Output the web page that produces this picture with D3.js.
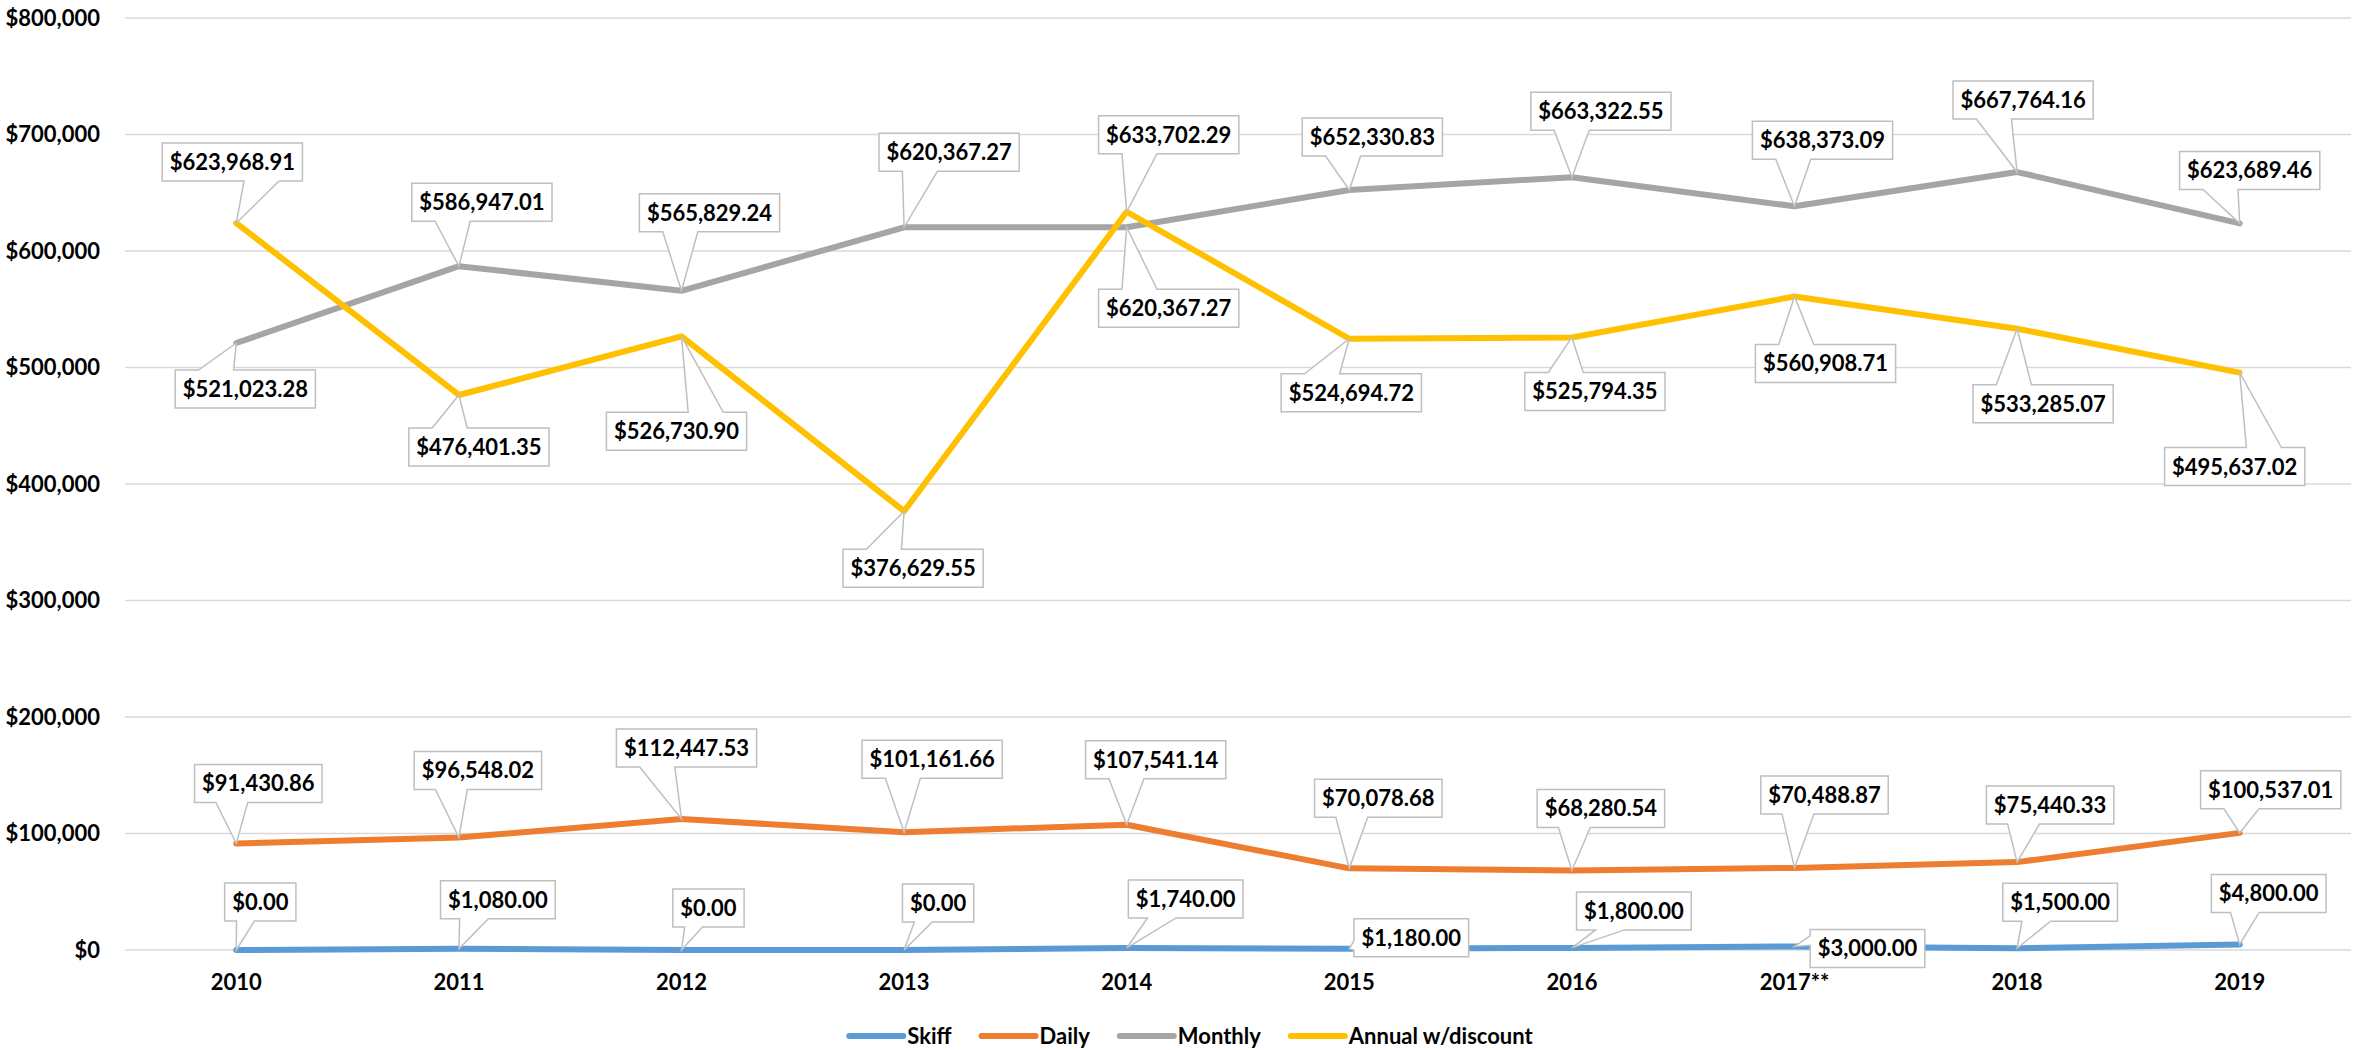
<!DOCTYPE html>
<html>
<head>
<meta charset="utf-8">
<script src="https://cdn.jsdelivr.net/npm/d3@7"></script>
<style>
  body { margin: 0; background: #fff; }
  text { font-family: Lato, "Open Sans", sans-serif; font-weight: 700; fill: #000; }
</style>
</head>
<body>
<div id="chart"></div>
<script>
// chart data
var years = ["2010", "2011", "2012", "2013", "2014", "2015", "2016", "2017**", "2018", "2019"];
var seriesNames = ["Skiff", "Daily", "Monthly", "Annual w/discount"];
var skiff = [0, 1080, 0, 0, 1740, 1180, 1800, 3000, 1500, 4800];
var daily = [91430.86, 96548.02, 112447.53, 101161.66, 107541.14, 70078.68, 68280.54, 70488.87, 75440.33, 100537.01];
var monthly = [521023.28, 586947.01, 565829.24, 620367.27, 620367.27, 652330.83, 663322.55, 638373.09, 667764.16, 623689.46];
var annual = [623968.91, 476401.35, 526730.90, 376629.55, 633702.29, 524694.72, 525794.35, 560908.71, 533285.07, 495637.02];
var yTicks = [0, 100000, 200000, 300000, 400000, 500000, 600000, 700000, 800000];

// where each callout box sits relative to its point (dx, dy)
var skiffLabelPos = [[24, -48], [39, -49], [27, -42], [34, -47], [59, -49], [62, -11], [62, -37], [73, 2], [43, -46], [29, -51]];
var dailyLabelPos = [[22, -60], [19, -67], [5, -71], [28, -73], [29, -65], [29, -70], [29, -62], [30, -73], [33, -57], [31, -43]];
var monthlyLabelPos = [[9, 46], [23, -64], [28, -78], [45, -75], [42, 81], [23, -53], [29, -66], [28, -66], [6, -72], [10, -53]];
var annualLabelPos = [[-4, -61], [20, 52], [-5, 95], [9, 57], [42, -77], [2, 54], [23, 54], [31, 67], [26, 75], [-5, 94]];

var colors = ["#5B9BD5", "#ED7D31", "#A5A5A5", "#FFC000"];

var width = 2361, height = 1050;
var margin = { left: 125, right: 10, top: 18, bottom: 100 };
var fontSize = "22px";

var svg = d3.select("#chart").append("svg")
	.attr("width", width)
	.attr("height", height);

var x = d3.scaleBand()
	.domain(years)
	.range([margin.left, width - margin.right]);

var y = d3.scaleLinear()
	.domain([0, 800000])
	.range([height - margin.bottom, margin.top]);

var px = function (i) { return x(years[i]) + x.bandwidth() / 2; };

// gridlines
svg.append("g").selectAll("line")
	.data(yTicks)
	.enter().append("line")
	.attr("x1", margin.left)
	.attr("x2", width - margin.right)
	.attr("y1", function (d) { return y(d); })
	.attr("y2", function (d) { return y(d); })
	.attr("stroke", "#D9D9D9")
	.attr("stroke-width", 1.5);

// y axis labels
var fmtAxis = d3.format(",");
svg.append("g").selectAll("text")
	.data(yTicks)
	.enter().append("text")
	.attr("x", 100)
	.attr("y", function (d) { return y(d); })
	.attr("dy", "0.36em")
	.attr("text-anchor", "end")
	.style("font-size", fontSize)
	.text(function (d) { return "$" + fmtAxis(d); });

// x axis labels
svg.append("g").selectAll("text")
	.data(years)
	.enter().append("text")
	.attr("x", function (d, i) { return px(i); })
	.attr("y", 990)
	.attr("text-anchor", "middle")
	.style("font-size", fontSize)
	.text(function (d) { return d; });

var allSeries = [skiff, daily, monthly, annual];
var allLabelPos = [skiffLabelPos, dailyLabelPos, monthlyLabelPos, annualLabelPos];

var line = d3.line()
	.x(function (d, i) { return px(i); })
	.y(function (d) { return y(d); });

// series lines
svg.append("g").selectAll("path")
	.data(allSeries)
	.enter().append("path")
	.attr("d", line)
	.attr("fill", "none")
	.attr("stroke", function (d, i) { return colors[i]; })
	.attr("stroke-width", 6)
	.attr("stroke-linejoin", "round")
	.attr("stroke-linecap", "round");

// excel style wedge callout around a box
function callout(cx, cy, w, h, tx, ty) {
	var l = cx - w / 2, t = cy - h / 2, r = cx + w / 2, b = cy + h / 2;
	var dxPos = tx - cx, dyPos = ty - cy;
	if (tx >= l && tx <= r && ty >= t && ty <= b) {
		return "M" + l + "," + t + "H" + r + "V" + b + "H" + l + "Z";
	}
	var dq = dxPos * h / w;
	var dz = Math.abs(dyPos) - Math.abs(dq);
	var xl = l + w * (dxPos > 0 ? 7 : 2) / 12, xr = l + w * (dxPos > 0 ? 10 : 5) / 12;
	var yt = t + h * (dyPos > 0 ? 7 : 2) / 12, yb = t + h * (dyPos > 0 ? 10 : 5) / 12;
	var p;
	if (dz > 0) {
		if (dyPos < 0) {
			p = [[l, t], [xl, t], [tx, ty], [xr, t], [r, t], [r, b], [l, b]];
		} else {
			p = [[l, t], [r, t], [r, b], [xr, b], [tx, ty], [xl, b], [l, b]];
		}
	} else {
		if (dxPos < 0) {
			p = [[l, t], [r, t], [r, b], [l, b], [l, yb], [tx, ty], [l, yt]];
		} else {
			p = [[l, t], [r, t], [r, yt], [tx, ty], [r, yb], [r, b], [l, b]];
		}
	}
	return "M" + p.join("L") + "Z";
}

// data labels
var fmtLabel = d3.format(",.2f");
var labelLayer = svg.append("g");
allSeries.forEach(function (values, s) {
	values.forEach(function (v, i) {
		var tx = px(i), ty = y(v);
		var cx = tx + allLabelPos[s][i][0], cy = ty + allLabelPos[s][i][1];
		var g = labelLayer.append("g");
		var path = g.append("path");
		var txt = g.append("text")
			.attr("x", cx)
			.attr("y", cy)
			.attr("dy", "0.36em")
			.attr("text-anchor", "middle")
			.style("font-size", fontSize)
			.text("$" + fmtLabel(v));
		var w = txt.node().getComputedTextLength() + 15;
		path.attr("d", callout(cx, cy, w, 38, tx, ty))
			.attr("fill", "#fff")
			.attr("stroke", "#BFBFBF")
			.attr("stroke-width", 1.5);
	});
});

// legend
var legend = svg.append("g");
var items = legend.selectAll("g")
	.data(seriesNames)
	.enter().append("g");
items.append("line")
	.attr("x1", 0).attr("x2", 54)
	.attr("y1", 0).attr("y2", 0)
	.attr("stroke", function (d, i) { return colors[i]; })
	.attr("stroke-width", 6)
	.attr("stroke-linecap", "round");
items.append("text")
	.attr("x", 58)
	.attr("dy", "0.36em")
	.style("font-size", fontSize)
	.text(function (d) { return d; });

var offset = 0;
var widths = [];
items.each(function () {
	var tw = d3.select(this).select("text").node().getComputedTextLength();
	widths.push(58 + tw);
});
var total = d3.sum(widths) + 30 * (widths.length - 1);
var startX = 1191 - total / 2;
items.attr("transform", function (d, i) {
	var t = "translate(" + (startX + offset) + ",1036)";
	offset += widths[i] + 30;
	return t;
});
</script>
</body>
</html>
